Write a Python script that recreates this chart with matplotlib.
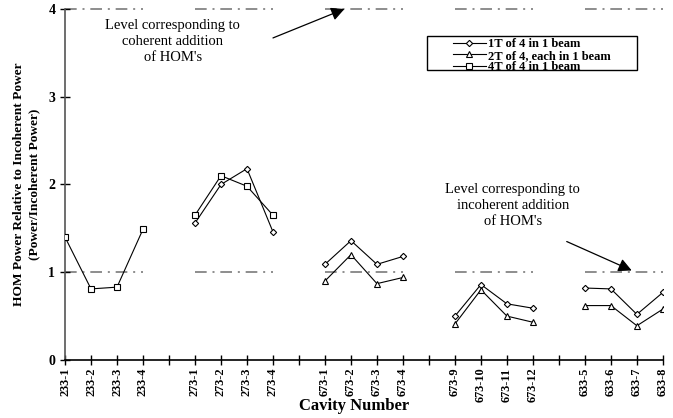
import matplotlib
matplotlib.use("Agg")
import matplotlib.pyplot as plt
from matplotlib.patches import Rectangle

plt.rcParams['font.family'] = ['Liberation Serif', 'DejaVu Serif']

slots = ["233-1", "233-2", "233-3", "233-4", "",
         "273-1", "273-2", "273-3", "273-4", "",
         "673-1", "673-2", "673-3", "673-4", "",
         "673-9", "673-10", "673-11", "673-12", "",
         "633-5", "633-6", "633-7", "633-8"]

groups = [["233-1", "233-2", "233-3", "233-4"],
          ["273-1", "273-2", "273-3", "273-4"],
          ["673-1", "673-2", "673-3", "673-4"],
          ["673-9", "673-10", "673-11", "673-12"],
          ["633-5", "633-6", "633-7", "633-8"]]

# 1T of 4 in 1 beam (diamonds)
s1_cav = ["273-1", "273-2", "273-3", "273-4",
          "673-1", "673-2", "673-3", "673-4",
          "673-9", "673-10", "673-11", "673-12",
          "633-5", "633-6", "633-7", "633-8"]
s1_val = [1.56, 2.00, 2.18, 1.46,
          1.09, 1.36, 1.09, 1.18,
          0.50, 0.86, 0.64, 0.59,
          0.82, 0.81, 0.52, 0.77]

# 2T of 4, each in 1 beam (triangles)
s2_cav = ["673-1", "673-2", "673-3", "673-4",
          "673-9", "673-10", "673-11", "673-12",
          "633-5", "633-6", "633-7", "633-8"]
s2_val = [0.90, 1.20, 0.87, 0.94,
          0.41, 0.80, 0.50, 0.43,
          0.62, 0.62, 0.39, 0.58]

# 4T of 4 in 1 beam (squares)
s3_cav = ["233-1", "233-2", "233-3", "233-4",
          "273-1", "273-2", "273-3", "273-4"]
s3_val = [1.40, 0.81, 0.83, 1.49,
          1.65, 2.10, 1.98, 1.65]

ref_levels = [1, 4]

pos = {c: i for i, c in enumerate(slots) if c}

fig = plt.figure(figsize=(6.73, 4.18), dpi=100)
ax = fig.add_axes([0.0966, 0.1388, 0.8884, 0.8397])

# reference level lines per group
for g in groups:
    xs = [pos[g[0]], pos[g[-1]]]
    for lv in ref_levels:
        ax.plot(xs, [lv, lv], color='#7a7a7a', lw=1.2,
                dashes=(7, 3.5, 1.2, 3.5), clip_on=False, zorder=1)

def plot_series(cav, val, marker, ms, label):
    first = True
    for g in groups:
        xs = [pos[c] for c, v in zip(cav, val) if c in g]
        ys = [v for c, v in zip(cav, val) if c in g]
        if not xs:
            continue
        ax.plot(xs, ys, color='black', lw=0.8, marker=marker, ms=ms,
                mfc='white', mec='black', mew=0.8,
                label=label if first else None, zorder=3)
        first = False

plot_series(s1_cav, s1_val, 'D', 3.2, '1T of 4 in 1 beam')
plot_series(s2_cav, s2_val, '^', 4.2, '2T of 4, each in 1 beam')
plot_series(s3_cav, s3_val, 's', 4.8, '4T of 4 in 1 beam')

ax.set_xlim(0, len(slots) - 1)
ax.set_ylim(0, 4)
ax.set_xticks(range(len(slots)))
ax.set_xticklabels(slots, rotation=90, fontsize=8.8, fontweight='bold')
ax.set_yticks([0, 1, 2, 3, 4])
ax.set_yticklabels(['0', '1', '2', '3', '4'], fontsize=10, fontweight='bold')
ax.tick_params(axis='both', direction='inout', length=7, width=1, colors='black')
ax.tick_params(axis='x', pad=2)

for s in ['top', 'right']:
    ax.spines[s].set_visible(False)
ax.spines['left'].set_color('#555555')
ax.spines['bottom'].set_color('black')
ax.spines['left'].set_linewidth(1.2)
ax.spines['bottom'].set_linewidth(1.2)

ax.set_ylabel("HOM Power Relative to Incoherent Power\n(Power/Incoherent Power)",
              fontsize=9.6, fontweight='bold', labelpad=6, linespacing=1.3)
ax.set_xlabel("Cavity Number", fontsize=12, fontweight='bold')
ax.xaxis.set_label_coords(0.484, -0.108)

# legend box drawn manually, legend entries inside
ax.add_patch(Rectangle((0.605, 0.826), 0.3515, 0.097, transform=ax.transAxes,
                       fill=True, facecolor='white', edgecolor='black', lw=1.0,
                       zorder=4, clip_on=False))
leg = ax.legend(loc='center', bbox_to_anchor=(0.781, 0.867),
                prop={'weight': 'bold', 'size': 9.0}, frameon=False,
                borderpad=0.0, labelspacing=-0.05,
                handlelength=2.6, handletextpad=0.2, borderaxespad=0)
leg.set_zorder(5)

# annotations
ax.text(4.15, 3.63, "Level corresponding to\ncoherent addition\nof HOM's",
        ha='center', va='center', fontsize=10.5, linespacing=1.3)
ax.annotate("", xy=(10.75, 4.0), xytext=(8.0, 3.67),
            arrowprops=dict(arrowstyle='-|>', color='black', lw=0.9,
                            mutation_scale=20, shrinkA=0, shrinkB=0),
            annotation_clip=False)

ax.text(17.23, 1.766, "Level corresponding to\nincoherent addition\nof HOM's",
        ha='center', va='center', fontsize=10.5, linespacing=1.3)
ax.annotate("", xy=(21.8, 1.02), xytext=(19.3, 1.35),
            arrowprops=dict(arrowstyle='-|>', color='black', lw=0.9,
                            mutation_scale=20, shrinkA=0, shrinkB=0),
            annotation_clip=False)

fig.savefig("out.png", dpi=100)
